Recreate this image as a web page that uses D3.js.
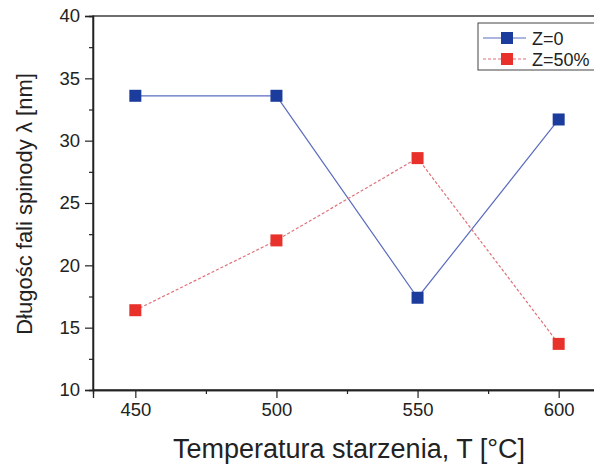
<!DOCTYPE html>
<html>
<head>
<meta charset="utf-8">
<script src="https://cdn.jsdelivr.net/npm/d3@7"></script>
<style>
  body { margin: 0; background: #fff; }
  text { font-family: Arial, "Liberation Sans", sans-serif; fill: #222; }
</style>
</head>
<body>
<div id="chart"></div>
<script>
// data
const temps = [450, 500, 550, 600];
const z0 = [33.6, 33.6, 17.4, 31.7];
const z50 = [16.4, 22.0, 28.6, 13.7];
const seriesNames = ["Z=0", "Z=50%"];
const xTicks = [450, 500, 550, 600];
const yTicks = [10, 15, 20, 25, 30, 35, 40];

const width = 594, height = 467;
const margin = {left: 93, top: 16, right: -7, bottom: 77};

const svg = d3.select('#chart')
    .append('svg')
    .attr('width', width)
    .attr('height', height);

const xScale = d3.scaleLinear()
    .domain([435, 615])
    .range([margin.left, width - margin.right]);

const yScale = d3.scaleLinear()
    .domain([10, 40])
    .range([height - margin.bottom, margin.top]);

// frame
svg.append('rect')
    .attr('x', margin.left)
    .attr('y', margin.top)
    .attr('width', xScale.range()[1] - margin.left)
    .attr('height', yScale(10) - margin.top)
    .attr('fill', 'none')
    .attr('stroke', '#222')
    .attr('stroke-width', 1.3);

// x axis
svg.append('g')
    .attr('transform', `translate(0,${yScale(10)})`)
    .call(d3.axisBottom(xScale).tickValues(xTicks).tickSize(8).tickPadding(5));
svg.append('g')
    .attr('transform', `translate(0,${yScale(10)})`)
    .call(d3.axisBottom(xScale).tickValues([475, 525, 575]).tickSize(4).tickFormat(''));

// y axis
svg.append('g')
    .attr('transform', `translate(${margin.left},0)`)
    .call(d3.axisLeft(yScale).tickValues(yTicks).tickSize(8).tickPadding(5));
svg.append('g')
    .attr('transform', `translate(${margin.left},0)`)
    .call(d3.axisLeft(yScale).tickValues([12.5, 17.5, 22.5, 27.5, 32.5, 37.5]).tickSize(4).tickFormat(''));

svg.selectAll('.domain').attr('stroke', '#222').attr('stroke-width', 1.3);
svg.selectAll('.tick line').attr('stroke', '#222').attr('stroke-width', 1.2);
svg.selectAll('.tick text').style('font-size', '18.5px').attr('fill', '#222');

// axis titles
svg.append('text')
    .attr('x', 349)
    .attr('y', 458)
    .attr('text-anchor', 'middle')
    .style('font-size', '27px')
    .text('Temperatura starzenia, T [°C]');

svg.append('text')
    .attr('transform', 'translate(32,204) rotate(-90)')
    .attr('text-anchor', 'middle')
    .style('font-size', '22px')
    .text('Długośc fali spinody λ [nm]');

// series
const series = [
    {name: seriesNames[0], values: z0, line: '#5a6cbf', fill: '#1b3c9c', dash: null},
    {name: seriesNames[1], values: z50, line: '#e0707a', fill: '#e8312a', dash: '3,2'}
];

const line = d3.line()
    .x((d, i) => xScale(temps[i]))
    .y((d) => yScale(d));

series.forEach(s => {
    svg.append('path')
        .datum(s.values)
        .attr('d', line)
        .attr('fill', 'none')
        .attr('stroke', s.line)
        .attr('stroke-width', 1.2)
        .attr('stroke-dasharray', s.dash);

    svg.selectAll(null)
        .data(s.values)
        .enter()
        .append('rect')
        .attr('x', (d, i) => xScale(temps[i]) - 6)
        .attr('y', (d) => yScale(d) - 6)
        .attr('width', 12)
        .attr('height', 12)
        .attr('fill', s.fill);
});

// legend
const legend = svg.append('g');
legend.append('rect')
    .attr('x', 478)
    .attr('y', 23)
    .attr('width', 130)
    .attr('height', 47)
    .attr('fill', '#fff')
    .attr('stroke', '#444')
    .attr('stroke-width', 1);

series.forEach((s, i) => {
    const y = 38 + i * 21;
    legend.append('line')
        .attr('x1', 483).attr('x2', 526)
        .attr('y1', y).attr('y2', y)
        .attr('stroke', s.line)
        .attr('stroke-width', 1.2)
        .attr('stroke-dasharray', s.dash);
    legend.append('rect')
        .attr('x', 501).attr('y', y - 6)
        .attr('width', 12).attr('height', 12)
        .attr('fill', s.fill);
    legend.append('text')
        .attr('x', 532).attr('y', y + 6.5)
        .style('font-size', '18px')
        .text(s.name);
});
</script>
</body>
</html>
